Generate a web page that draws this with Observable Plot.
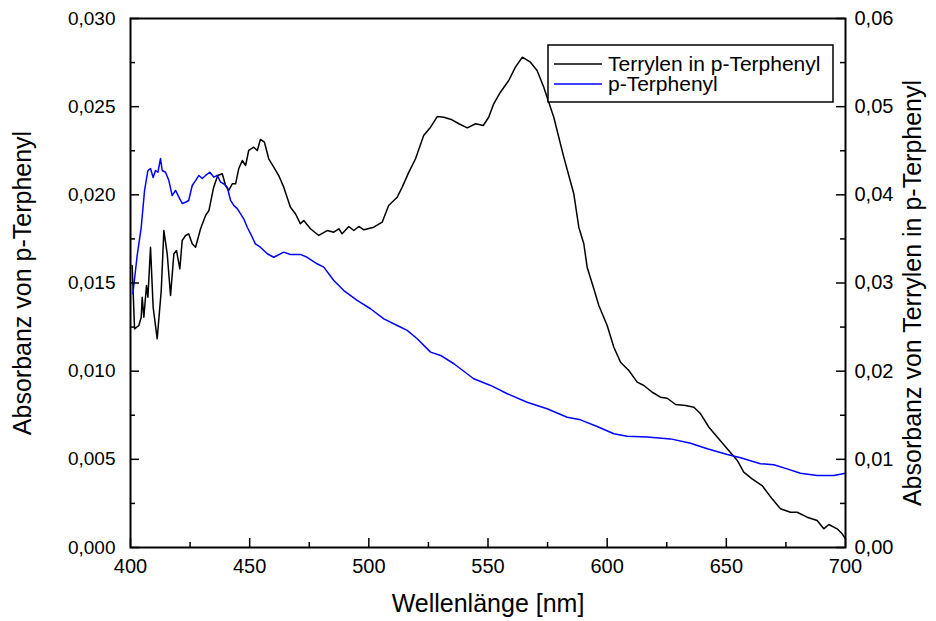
<!DOCTYPE html>
<html><head><meta charset="utf-8">
<script src="https://cdn.jsdelivr.net/npm/d3@7"></script>
<script src="https://cdn.jsdelivr.net/npm/@observablehq/plot@0.6"></script>
<style>body{margin:0;background:#fff} svg{font-family:"Liberation Sans",Arial,sans-serif}</style>
</head><body><div id="chart"></div>
<script>
// p-Terphenyl (left axis)
const terpWavelength = [401.0,402.8,404.5,405.9,407.3,408.4,409.5,410.5,411.5,412.6,
413.3,414.7,416.1,417.5,418.9,420.3,421.7,423.1,424.4,425.9,
427.3,428.7,430.1,431.5,433.3,435.0,436.4,437.8,439.1,440.6,
442.0,443.3,444.8,446.2,447.5,449.0,450.4,452.4,454.5,457.4,
460.1,464.3,467.1,471.3,474.1,478.3,481.1,485.3,489.5,495.1,
500.7,506.3,511.9,516.1,520.3,525.9,530.1,535.7,544.0,551.1,
558.1,566.4,574.8,583.2,588.8,595.8,602.8,608.4,616.8,626.6,
635.0,642.0,650.4,656.0,664.3,669.9,675.5,681.1,688.1,695.1,700.0];
const terpAbs = [0.01439,0.01656,0.01816,0.02025,0.02138,0.02149,0.02098,0.02138,0.02128,0.02206,
0.02138,0.02128,0.02081,0.01996,0.02025,0.01987,0.01951,0.01958,0.01968,0.02053,
0.02081,0.02110,0.02093,0.02110,0.02128,0.02100,0.02110,0.02072,0.02063,0.02043,
0.01968,0.01940,0.01922,0.01892,0.01864,0.01816,0.01779,0.01722,0.01703,0.01666,
0.01646,0.01675,0.01662,0.01662,0.01646,0.01609,0.01590,0.01514,0.01457,0.01401,
0.01354,0.01297,0.01259,0.01231,0.01184,0.01108,0.01089,0.01042,0.00957,0.00919,
0.00872,0.00824,0.00787,0.00739,0.00724,0.00686,0.00645,0.00631,0.00626,0.00616,
0.00591,0.00560,0.00527,0.00509,0.00475,0.00469,0.00446,0.00421,0.00408,0.00408,0.00421];

// Terrylen in p-Terphenyl (right axis)
const terylWavelength = [400.7,401.7,403.5,404.5,404.9,405.6,406.7,407.3,408.4,409.5,
411.2,412.9,414.0,415.4,416.8,418.2,419.3,420.7,421.7,423.1,
424.4,425.9,427.3,429.4,431.5,432.9,434.9,436.6,438.5,439.9,
441.2,442.7,444.1,445.4,446.9,448.3,449.6,451.7,453.2,454.5,
456.2,458.0,460.1,462.2,464.3,467.1,469.2,471.3,472.7,475.5,
479.0,482.5,485.3,487.4,488.8,491.6,493.7,495.8,497.9,502.1,
505.6,508.3,511.9,514.0,516.8,519.6,523.0,525.9,528.7,531.5,
534.9,537.8,541.3,544.8,548.0,550.3,552.4,555.2,558.7,561.5,
564.4,567.8,570.6,573.4,577.6,581.8,586.0,588.1,590.2,591.6,
594.4,596.5,600.0,602.8,605.6,609.1,612.6,615.4,618.9,622.4,
625.2,628.7,632.9,636.4,639.2,642.7,646.8,651.0,654.6,657.3,
660.8,665.0,669.2,672.7,676.9,679.7,683.9,688.1,690.9,693.0,
696.5,698.6,700.0];
const terylAbs = [0.03198,0.02480,0.02518,0.02612,0.02839,0.02612,0.02972,0.02839,0.03406,0.02725,
0.02367,0.02915,0.03595,0.03331,0.02858,0.03331,0.03369,0.03161,0.03482,0.03539,
0.03558,0.03445,0.03406,0.03615,0.03766,0.03822,0.04087,0.04219,0.04239,0.04106,
0.04049,0.04125,0.04125,0.04295,0.04389,0.04333,0.04503,0.04540,0.04503,0.04628,
0.04597,0.04409,0.04313,0.04219,0.04087,0.03860,0.03785,0.03671,0.03709,0.03615,
0.03539,0.03595,0.03576,0.03615,0.03558,0.03641,0.03595,0.03641,0.03603,0.03633,
0.03690,0.03879,0.03973,0.04087,0.04257,0.04409,0.04673,0.04767,0.04888,0.04880,
0.04851,0.04806,0.04760,0.04806,0.04786,0.04880,0.05032,0.05164,0.05297,0.05448,
0.05561,0.05504,0.05410,0.05221,0.04880,0.04427,0.04012,0.03633,0.03445,0.03179,
0.02934,0.02745,0.02518,0.02272,0.02102,0.02008,0.01875,0.01837,0.01761,0.01705,
0.01693,0.01622,0.01611,0.01591,0.01516,0.01364,0.01233,0.01100,0.00987,0.00854,
0.00779,0.00703,0.00552,0.00439,0.00400,0.00400,0.00344,0.00306,0.00212,0.00261,
0.00212,0.00155,0.00099];

const xTicks = [400,450,500,550,600,650,700];
const xMinorTicks = [425,475,525,575,625,675];
const leftTicks = [0,0.005,0.010,0.015,0.020,0.025,0.030];
const leftMinorTicks = [0.0025,0.0075,0.0125,0.0175,0.0225,0.0275];
const rightTicks = [0,0.01,0.02,0.03,0.04,0.05,0.06];
const rightMinorTicks = [0.005,0.015,0.025,0.035,0.045,0.055];
const legendLabels = ["Terrylen in p-Terphenyl","p-Terphenyl"];
const seriesColors = ["#000000","#0000ff"];
const xTitle = "Wellenlänge [nm]";
const leftTitle = "Absorbanz von p-Terphenyl";
const rightTitle = "Absorbanz von Terrylen in p-Terphenyl";

const W = 936, H = 621, mL = 130, mR = 91, mT = 18, mB = 74;
const fw = W - mL - mR, fh = H - mT - mB;
const major = 9, minor = 5;
const ratio = 2; // right axis / left axis
const terp = terpWavelength.map((x,i)=>({x, y: terpAbs[i]}));
const teryl = terylWavelength.map((x,i)=>({x, y: terylAbs[i] / ratio}));
const comma = (f) => (v) => d3.format(f)(v).replace(".", ",");
const tk = {stroke:"#000", strokeWidth:1.5};

const plot = Plot.plot({
  width: W, height: H,
  marginLeft: mL, marginRight: mR, marginTop: mT, marginBottom: mB,
  style: {fontFamily: "Liberation Sans, Arial, sans-serif", fontSize: "19px", background: "#fff"},
  x: {domain: [400,700]},
  y: {domain: [0,0.030]},
  marks: [
    Plot.line(teryl, {x:"x", y:"y", stroke: seriesColors[0], strokeWidth: 1.5}),
    Plot.line(terp, {x:"x", y:"y", stroke: seriesColors[1], strokeWidth: 1.5}),
    // tick marks (inward)
    Plot.ruleX(xTicks, {x:d=>d, insetTop: fh - major, ...tk}),
    Plot.ruleX(xMinorTicks, {x:d=>d, insetTop: fh - minor, ...tk}),
    Plot.ruleY(leftTicks, {y:d=>d, insetRight: fw - major, ...tk}),
    Plot.ruleY(leftMinorTicks, {y:d=>d, insetRight: fw - minor, ...tk}),
    Plot.ruleY(rightTicks.map(v=>v/ratio), {y:d=>d, insetLeft: fw - major, ...tk}),
    Plot.ruleY(rightMinorTicks.map(v=>v/ratio), {y:d=>d, insetLeft: fw - minor, ...tk}),
    // tick labels
    Plot.axisX(xTicks, {anchor:"bottom", tickSize:0, tickPadding:11, fontSize:20, label:null}),
    Plot.axisY(leftTicks, {anchor:"left", tickSize:0, tickPadding:15, tickFormat: comma(".3f"), fontSize:19, label:null}),
    Plot.axisY(rightTicks.map(v=>v/ratio), {anchor:"right", tickSize:0, tickPadding:9, tickFormat: d => comma(".2f")(d*ratio), fontSize:20, label:null}),
    Plot.frame({stroke:"#000", strokeWidth:2}),
    Plot.text([xTitle], {frameAnchor:"bottom", dy:64, text:d=>d, fontSize:25}),
    Plot.text([leftTitle], {frameAnchor:"left", textAnchor:"middle", dx:-108, rotate:-90, text:d=>d, fontSize:25}),
    Plot.text([rightTitle], {frameAnchor:"right", textAnchor:"middle", dx:67, dy:10, rotate:-90, text:d=>d, fontSize:25})
  ]
});
document.getElementById("chart").appendChild(plot);

// legend box inside the plot area
const svg = d3.select(plot);
const lg = svg.append("g").attr("font-family","Liberation Sans, Arial, sans-serif").attr("text-anchor","start");
lg.append("rect").attr("x",548).attr("y",45).attr("width",285).attr("height",57)
  .attr("fill","#fff").attr("stroke","#000").attr("stroke-width",1.5);
legendLabels.forEach((lab,i)=>{
  const yy = 64 + i*20;
  lg.append("line").attr("x1",554).attr("x2",602).attr("y1",yy).attr("y2",yy)
    .attr("stroke",seriesColors[i]).attr("stroke-width",1.5);
  lg.append("text").attr("x",608).attr("y",yy).attr("dy","0.35em")
    .attr("font-size",21).attr("fill","#000").text(lab);
});
</script></body></html>
